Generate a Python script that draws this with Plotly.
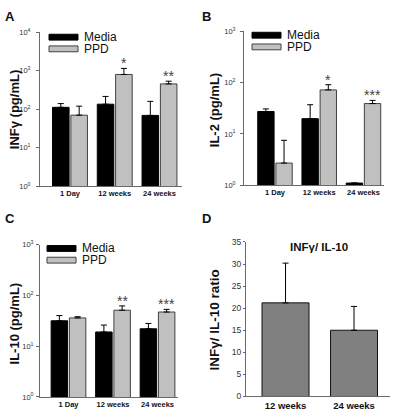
import math
import plotly.graph_objects as go

W, H = 397, 419
FONT = "Arial, Liberation Sans, sans-serif"

# ---------------- data ----------------
timepoints = ["1 Day", "12 weeks", "24 weeks"]

ifng_media = [112, 135, 69]
ifng_media_err = [28, 80, 91]
ifng_ppd = [70, 800, 455]
ifng_ppd_err = [50, 350, 80]
ifng_stars = ["", "*", "**"]

il2_media = [27.3, 19.8, 1.1]
il2_media_err = [3.4, 17.2, 0]
il2_ppd = [2.7, 72, 39]
il2_ppd_err = [4.8, 19, 6]
il2_stars = ["", "*", "***"]

il10_media = [31.6, 19, 22]
il10_media_err = [8.4, 7, 6]
il10_ppd = [36, 51, 47]
il10_ppd_err = [2, 11, 6]
il10_stars = ["", "**", "***"]

ratio_weeks = ["12 weeks", "24 weeks"]
ratio_vals = [21.2, 15.0]
ratio_err = [9.0, 5.4]

log_ticks = [1, 10, 100, 1000, 10000]
log_ticktext = ["10<sup>0</sup>", "10<sup>1</sup>", "10<sup>2</sup>", "10<sup>3</sup>", "10<sup>4</sup>"]
lin_ticks = [0, 5, 10, 15, 20, 25, 30, 35]

# ---------------- styles ----------------
MEDIA_COLOR = "#000000"
PPD_COLOR = "#c0c0c0"
PPD_LINE = "#404040"
RATIO_COLOR = "#808080"
AXIS_COLOR = "#6a6a6a"


def xd(x0, x1):
    return [x0 / W, x1 / W]


def yd(ytop, ybot):
    return [1 - ybot / H, 1 - ytop / H]


panels = [
    dict(name="A", xa="x", ya="y", xdom=xd(40, 182), ydom=yd(27, 185), xr=[-0.670, 2.503],
         yr=[0, 4], media=ifng_media, merr=ifng_media_err, ppd=ifng_ppd, perr=ifng_ppd_err,
         stars=ifng_stars, title="INFγ (pg/mL)", tx=14, ty=107, letter=(3, 11), leg=(49, 29),
         standoff=4),
    dict(name="B", xa="x2", ya="y2", xdom=xd(244, 384), ydom=yd(26, 184), xr=[-0.70, 2.464],
         yr=[0, 3], media=il2_media, merr=il2_media_err, ppd=il2_ppd, perr=il2_ppd_err,
         stars=il2_stars, title="IL-2 (pg/mL)", tx=214, ty=107, letter=(200, 11), leg=(252, 27),
         standoff=3),
    dict(name="C", xa="x3", ya="y3", xdom=xd(40, 178), ydom=yd(245, 401.5), xr=[-0.640, 2.46],
         yr=[0, 3], media=il10_media, merr=il10_media_err, ppd=il10_ppd, perr=il10_ppd_err,
         stars=il10_stars, title="IL-10 (pg/mL)", tx=14, ty=326, letter=(3, 218), leg=(47, 246),
         standoff=1),
]

fig = go.Figure()
layout = dict(
    width=W, height=H, margin=dict(l=0, r=0, t=0, b=0),
    paper_bgcolor="white", plot_bgcolor="white", showlegend=False,
    font=dict(family=FONT, color="#222222"),
)
annotations = []
shapes = []

for p in panels:
    err_common = dict(type="data", symmetric=False, color="black", thickness=1, width=3)
    fig.add_trace(go.Bar(
        x=timepoints, y=p["media"], xaxis=p["xa"], yaxis=p["ya"], name="Media",
        marker=dict(color=MEDIA_COLOR, line=dict(color="#000000", width=1)),
        width=0.37, offset=-0.39,
        error_y=dict(array=p["merr"], arrayminus=[0] * 3, **err_common),
    ))
    fig.add_trace(go.Bar(
        x=timepoints, y=p["ppd"], xaxis=p["xa"], yaxis=p["ya"], name="PPD",
        marker=dict(color=PPD_COLOR, line=dict(color=PPD_LINE, width=1)),
        width=0.37, offset=0.02,
        error_y=dict(array=p["perr"], arrayminus=[0] * 3, **err_common),
    ))
    xk = "xaxis" + p["xa"][1:]
    yk = "yaxis" + p["ya"][1:]
    layout[xk] = dict(
        domain=p["xdom"], anchor=p["ya"], type="category", range=p["xr"],
        showline=True, linecolor=AXIS_COLOR, linewidth=1, ticks="", showgrid=False,
        tickfont=dict(size=7.5, weight="bold", color="#111111"), fixedrange=True,
    )
    layout[yk] = dict(
        domain=p["ydom"], anchor=p["xa"], type="log", range=p["yr"],
        tickvals=log_ticks, ticktext=log_ticktext,
        showline=True, linecolor=AXIS_COLOR, linewidth=1, ticks="outside", ticklen=3,
        tickcolor=AXIS_COLOR, showgrid=False, zeroline=False, ticklabelstandoff=p["standoff"],
        tickfont=dict(size=7.5, color="#333333"),
    )
    # significance stars
    for i, s in enumerate(p["stars"]):
        if s:
            annotations.append(dict(
                x=i + 0.205, y=math.log10(p["ppd"][i] + p["perr"][i]),
                xref=p["xa"], yref=p["ya"], text=s, showarrow=False,
                yanchor="bottom", yshift=-5, font=dict(size=14, color="#444444"),
            ))
    # y title
    annotations.append(dict(
        x=p["tx"] / W, y=1 - p["ty"] / H, xref="paper", yref="paper", text="<b>" + p["title"] + "</b>",
        textangle=-90, showarrow=False, font=dict(size=13, color="#111111"),
        xanchor="center", yanchor="middle",
    ))
    # panel letter
    lx, ly = p["letter"]
    annotations.append(dict(
        x=lx / W, y=1 - ly / H, xref="paper", yref="paper", text="<b>" + p["name"] + "</b>",
        showarrow=False, xanchor="left", yanchor="middle", font=dict(size=13, color="#111111"),
    ))
    # legend
    gx, gy = p["leg"]
    for k, (lab, col, lc) in enumerate([("Media", MEDIA_COLOR, "#000000"), ("PPD", PPD_COLOR, PPD_LINE)]):
        y0 = gy + k * 12
        shapes.append(dict(
            type="rect", xref="paper", yref="paper",
            x0=gx / W, x1=(gx + 29) / W, y0=1 - (y0 + 6) / H, y1=1 - y0 / H,
            fillcolor=col, line=dict(color=lc, width=1),
        ))
        annotations.append(dict(
            x=(gx + 33) / W, y=1 - (y0 + 3) / H, xref="paper", yref="paper", text=lab,
            showarrow=False, xanchor="left", yanchor="middle", height=12,
            font=dict(size=12, color="#111111"),
        ))

# panel D
fig.add_trace(go.Bar(
    x=ratio_weeks, y=ratio_vals, xaxis="x4", yaxis="y4", name="INFγ/IL-10",
    marker=dict(color=RATIO_COLOR, line=dict(color="#111111", width=1)),
    width=0.686,
    error_y=dict(type="data", array=ratio_err, arrayminus=[0, 0], symmetric=False,
                 color="black", thickness=1, width=3),
))
layout["xaxis4"] = dict(
    domain=xd(246, 390), anchor="y4", type="category", range=[-0.577, 1.525],
    showline=True, linecolor=AXIS_COLOR, linewidth=1, ticks="", showgrid=False,
    tickfont=dict(size=9.5, weight="bold", color="#111111"),
)
layout["yaxis4"] = dict(
    domain=yd(242.3, 401), anchor="x4", range=[0, 35], tickvals=lin_ticks,
    showline=True, linecolor=AXIS_COLOR, linewidth=1, ticks="outside", ticklen=2,
    tickcolor=AXIS_COLOR, showgrid=False, zeroline=False,
    tickfont=dict(size=8.5, color="#333333"),
)
annotations.append(dict(
    x=215 / W, y=1 - 323 / H, xref="paper", yref="paper", text="<b>INFγ/ IL-10 ratio</b>",
    textangle=-90, showarrow=False, font=dict(size=13.5, color="#111111"),
    xanchor="center", yanchor="middle",
))
annotations.append(dict(
    x=200 / W, y=1 - 218 / H, xref="paper", yref="paper", text="<b>D</b>",
    showarrow=False, xanchor="left", yanchor="middle", font=dict(size=13, color="#111111"),
))
annotations.append(dict(
    x=319 / W, y=1 - 248 / H, xref="paper", yref="paper", text="<b>INFγ/ IL-10</b>",
    showarrow=False, xanchor="center", yanchor="middle", font=dict(size=11.5, color="#111111"),
))

layout["annotations"] = annotations
layout["shapes"] = shapes
fig.update_layout(**layout)
fig.write_html(
    "out.html",
    config={"displayModeBar": False},
    post_script="document.body.style.margin='0';document.body.style.overflow='hidden';",
)
